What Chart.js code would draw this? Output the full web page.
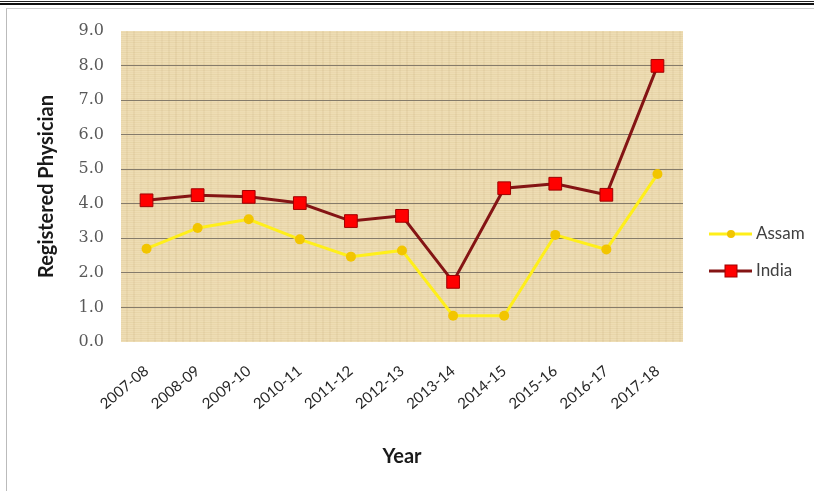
<!DOCTYPE html>
<html>
<head>
<meta charset="utf-8">
<script src="https://cdn.jsdelivr.net/npm/chart.js@4.4.0/dist/chart.umd.min.js"></script>
<style>
  html, body { margin: 0; padding: 0; background: #fff; }
  #wrap { position: relative; width: 814px; height: 491px; overflow: hidden; }
  #topline1 { position: absolute; left: 0; top: 1px; width: 814px; height: 0; border-top: 1px solid #222; }
  #topline2 { position: absolute; left: 0; top: 3px; width: 814px; height: 0; border-top: 2px solid #111; }
  #frame { position: absolute; left: 6px; top: 8px; width: 820px; height: 500px; border-left: 1px solid #bbb; border-top: 1px solid #ccc; }
  #c { position: absolute; left: 0; top: 0; }
</style>
</head>
<body>
<div id="wrap">
  <div id="topline1"></div>
  <div id="topline2"></div>
  <div id="frame"></div>
  <canvas id="c" width="814" height="491"></canvas>
</div>
<script>
var years = ['2007-08', '2008-09', '2009-10', '2010-11', '2011-12', '2012-13', '2013-14', '2014-15', '2015-16', '2016-17', '2017-18'];
var assam = [2.7, 3.3, 3.55, 2.97, 2.47, 2.65, 0.76, 0.76, 3.1, 2.68, 4.86];
var india = [4.1, 4.25, 4.2, 4.02, 3.5, 3.65, 1.74, 4.45, 4.58, 4.26, 7.99];
var yTicks = [0, 1, 2, 3, 4, 5, 6, 7, 8, 9];

// papyrus-like fill for the plot area
function makePaper() {
    var p = document.createElement('canvas');
    p.width = 140; p.height = 90;
    var g = p.getContext('2d');
    g.fillStyle = '#EEDDB4';
    g.fillRect(0, 0, 140, 90);
    for (var i = 0; i < 90; i += 2) {
        var a = 0.06 + 0.10 * Math.abs(Math.sin(i * 0.57));
        g.fillStyle = 'rgba(200,170,110,' + a + ')';
        g.fillRect(0, i, 140, 1);
    }
    for (var j = 0; j < 140; j += 7) {
        var b = 0.03 + 0.05 * Math.abs(Math.sin(j * 1.31));
        g.fillStyle = 'rgba(160,130,80,' + b + ')';
        g.fillRect(j, 0, 2, 90);
    }
    return p;
}

var paperBg = {
    id: 'paperBg',
    beforeDraw: function (chart) {
        var a = chart.chartArea, ctx = chart.ctx;
        ctx.save();
        ctx.fillStyle = ctx.createPattern(makePaper(), 'repeat');
        ctx.fillRect(a.left, a.top, a.right - a.left, a.bottom - a.top);
        ctx.restore();
    }
};

// excel-like legend: line with marker, then label
var sideLegend = {
    id: 'sideLegend',
    afterDraw: function (chart) {
        var ctx = chart.ctx;
        var rows = [{ y: 234, ds: chart.data.datasets[0] }, { y: 271, ds: chart.data.datasets[1] }];
        ctx.save();
        rows.forEach(function (r) {
            var ds = r.ds;
            ctx.strokeStyle = ds.borderColor;
            ctx.lineWidth = ds.borderWidth;
            ctx.beginPath();
            ctx.moveTo(709, r.y);
            ctx.lineTo(752, r.y);
            ctx.stroke();
            ctx.fillStyle = ds.pointBackgroundColor;
            ctx.strokeStyle = ds.pointBorderColor;
            ctx.lineWidth = 1;
            if (ds.pointStyle === 'rect') {
                ctx.fillRect(725, r.y - 6, 12, 12);
                ctx.strokeRect(725, r.y - 6, 12, 12);
            } else {
                ctx.beginPath();
                ctx.arc(731, r.y, 4, 0, Math.PI * 2);
                ctx.fill();
            }
            ctx.fillStyle = '#404040';
            ctx.font = '17px Lato, "Open Sans", sans-serif';
            ctx.textBaseline = 'middle';
            ctx.fillText(ds.label, 756, r.y);
        });
        ctx.restore();
    }
};

var data = {
    labels: years,
    datasets: [{
        label: 'Assam',
        data: assam,
        borderColor: '#FFEF1A',
        borderWidth: 3,
        pointStyle: 'circle',
        pointRadius: 5,
        pointBackgroundColor: '#F2C500',
        pointBorderColor: '#F2C500',
        pointBorderWidth: 0,
        tension: 0
    }, {
        label: 'India',
        data: india,
        borderColor: '#841414',
        borderWidth: 3,
        pointStyle: 'rect',
        pointRadius: 9,
        pointBackgroundColor: '#FF0000',
        pointBorderColor: '#A00000',
        pointBorderWidth: 1,
        tension: 0
    }]
};

var layout = {
    type: 'line',
    data: data,
    options: {
        responsive: false,
        animation: false,
        layout: {
            padding: { left: 8, right: 131, top: 31, bottom: 10 }
        },
        plugins: {
            legend: { display: false },
            tooltip: { enabled: false }
        },
        scales: {
            x: {
                offset: true,
                afterFit: function (s) { s.height = 139; },
                grid: { display: false, drawTicks: false },
                border: { display: false },
                ticks: {
                    minRotation: 40,
                    maxRotation: 40,
                    padding: 20,
                    color: '#262626',
                    font: { family: 'Lato, "Open Sans", sans-serif', size: 15 }
                },
                title: {
                    display: true,
                    text: 'Year',
                    color: '#1a1a1a',
                    padding: { top: 4, bottom: 12 },
                    font: { family: 'Lato, "Open Sans", sans-serif', size: 20, weight: 'bold' }
                }
            },
            y: {
                min: 0,
                max: 9,
                afterFit: function (s) { s.width = 113; },
                afterBuildTicks: function (s) {
                    s.ticks = yTicks.map(function (v) { return { value: v }; });
                },
                grid: {
                    drawTicks: false,
                    color: function (c) {
                        return (c.tick.value === 0 || c.tick.value === 9) ? 'rgba(0,0,0,0)' : '#857B6A';
                    },
                    lineWidth: 1
                },
                border: { display: false },
                ticks: {
                    padding: 17,
                    color: '#595959',
                    font: { family: '"DejaVu Serif", serif', size: 16 },
                    callback: function (v) { return Number(v).toFixed(1); }
                },
                title: {
                    display: true,
                    text: 'Registered Physician',
                    color: '#1a1a1a',
                    padding: { top: 27, bottom: 0 },
                    font: { family: 'Lato, "Open Sans", sans-serif', size: 20, weight: 'bold' }
                }
            }
        }
    },
    plugins: [paperBg, sideLegend]
};

new Chart(document.getElementById('c'), layout);
</script>
</body>
</html>
